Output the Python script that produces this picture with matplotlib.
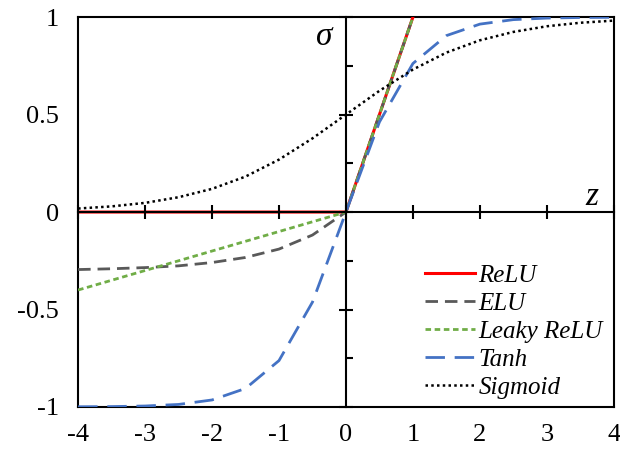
import matplotlib.pyplot as plt

z = [-4, -3.5, -3, -2.5, -2, -1.5, -1, -0.5, 0, 0.5, 1, 1.5, 2, 2.5, 3, 3.5, 4]

relu = [0, 0, 0, 0, 0, 0, 0, 0, 0, 0.5, 1, 1.5, 2, 2.5, 3, 3.5, 4]
elu = [-0.295, -0.291, -0.285, -0.276, -0.259, -0.233, -0.19, -0.118, 0,
       0.5, 1, 1.5, 2, 2.5, 3, 3.5, 4]
leaky = [-0.4, -0.35, -0.3, -0.25, -0.2, -0.15, -0.1, -0.05, 0,
         0.5, 1, 1.5, 2, 2.5, 3, 3.5, 4]
tanh = [-0.999, -0.998, -0.995, -0.987, -0.964, -0.905, -0.762, -0.462, 0,
        0.462, 0.762, 0.905, 0.964, 0.987, 0.995, 0.998, 0.999]
sigmoid = [0.018, 0.029, 0.047, 0.076, 0.119, 0.182, 0.269, 0.378, 0.5,
           0.622, 0.731, 0.818, 0.881, 0.924, 0.953, 0.971, 0.982]

xticks = [-4, -3, -2, -1, 0, 1, 2, 3, 4]
yticks = [-1, -0.5, 0, 0.5, 1]
yticklabels = ['-1', '-0.5', '0', '0.5', '1']

plt.rcParams['font.family'] = 'serif'
plt.rcParams['font.serif'] = ['Liberation Serif', 'DejaVu Serif']

fig = plt.figure(figsize=(6.2, 4.5), dpi=100)
rect = [0.126, 0.0956, 0.864, 0.8664]
ax = fig.add_axes(rect)

ax.plot(z, relu, color='#FF0000', lw=2.2, label='ReLU', zorder=3)
ax.plot(z, elu, color='#595959', lw=2, dashes=(4.5, 2.5), label='ELU', zorder=4)
ax.plot(z, leaky, color='#70AD47', lw=2, dashes=(2, 1.3), label='Leaky ReLU', zorder=5)
ax.plot(z, tanh, color='#4472C4', lw=2, dashes=(7, 3.5), label='Tanh', zorder=6)
ax.plot(z, sigmoid, color='black', lw=1.8, dashes=(1, 1.3), label='Sigmoid', zorder=7)

ax.set_xlim(-4, 4)
ax.set_ylim(-1, 1)
ax.set_xticks(xticks)
ax.set_xticklabels([str(t) for t in xticks])
ax.set_yticks(yticks)
ax.set_yticklabels(yticklabels)
ax.tick_params(axis='both', length=0, labelsize=19)
ax.tick_params(axis='x', pad=12)
ax.tick_params(axis='y', pad=14)
for s in ax.spines.values():
    s.set_linewidth(1.5)

leg = ax.legend(loc='lower right', bbox_to_anchor=(1.007, -0.018), frameon=False,
                prop={'family': 'Liberation Serif', 'style': 'italic', 'size': 18},
                handlelength=2.0, handletextpad=0.15, labelspacing=0.22,
                borderaxespad=0.2)

ax.text(-0.32, 0.9, 'σ', fontsize=24, ha='center', va='center',
        family='Liberation Serif', style='italic')
ax.text(3.67, 0.08, 'z', fontsize=24, ha='center', va='center',
        family='Liberation Serif', style='italic')

# center axes with cross ticks
ax2 = fig.add_axes(rect)
ax2.set_xlim(-4, 4)
ax2.set_ylim(-1, 1)
ax2.patch.set_visible(False)
ax2.spines['left'].set_position(('data', 0))
ax2.spines['bottom'].set_position(('data', 0))
ax2.spines['top'].set_visible(False)
ax2.spines['right'].set_visible(False)
ax2.spines['left'].set_linewidth(1.5)
ax2.spines['bottom'].set_linewidth(1.5)
ax2.set_xticks(xticks)
ax2.set_yticks(yticks)
ax2.set_yticks([-0.75, -0.25, 0.25, 0.75], minor=True)
ax2.tick_params(which='major', direction='inout', length=10, width=1.5,
                labelleft=False, labelbottom=False)
ax2.tick_params(which='minor', axis='y', direction='in', length=5, width=1.5,
                labelleft=False)

fig.savefig('out.png', dpi=100)
